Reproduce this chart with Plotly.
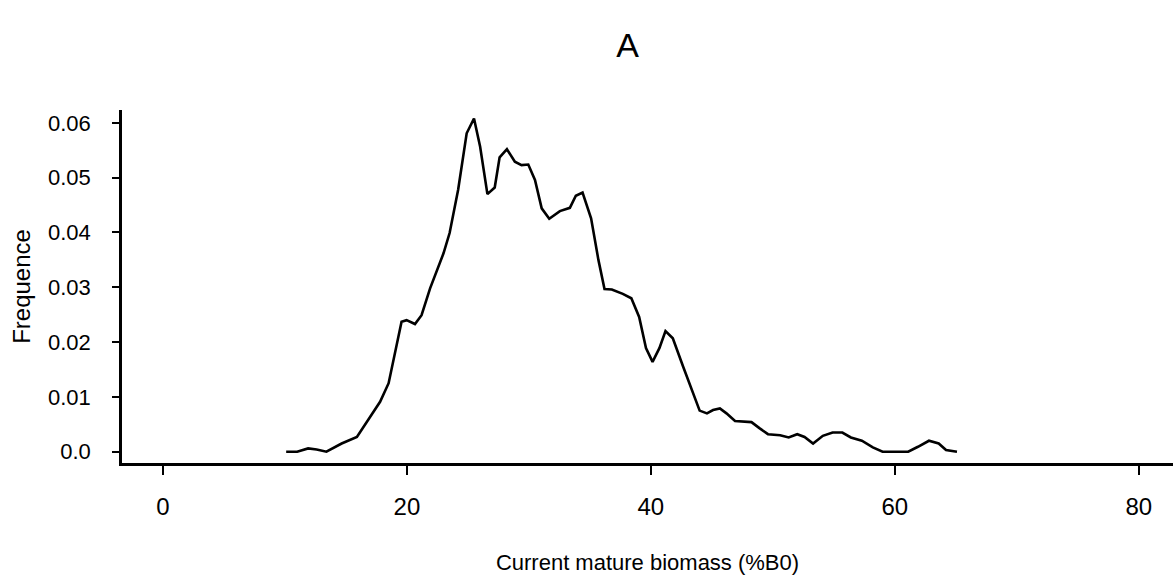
import plotly.graph_objects as go

# Data
biomass = [10.1, 11.0, 11.9, 12.6, 13.4, 14.65, 15.9, 17.0, 17.8, 18.5, 19.0, 19.56, 19.97,
           20.66, 21.2, 21.9, 23.0, 23.5, 24.2, 24.9, 25.5, 26.0, 26.6, 27.2, 27.6, 28.2,
           28.85, 29.4, 29.95, 30.5, 31.05, 31.67, 32.54, 33.36, 33.85, 34.4, 35.1, 35.7,
           36.2, 36.8, 37.7, 38.4, 39.04, 39.6, 40.14, 40.7, 41.2, 41.8, 42.65, 43.5, 44.0,
           44.6, 45.1, 45.66, 46.2, 46.9, 47.6, 48.25, 48.9, 49.6, 50.6, 51.3, 52.0, 52.6,
           53.3, 54.1, 54.9, 55.7, 56.4, 57.3, 58.2, 59.0, 59.85, 61.1, 61.9, 62.8, 63.6,
           64.2, 65.1]
frequence = [0.0, 0.0, 0.0006, 0.0004, 0.0, 0.0015, 0.0027, 0.0064, 0.0091, 0.0125, 0.018,
             0.0237, 0.024, 0.0233, 0.0249, 0.0298, 0.0362, 0.0399, 0.0478, 0.0581, 0.0608,
             0.0557, 0.047, 0.0482, 0.0537, 0.0552, 0.0529, 0.0523, 0.0524, 0.0496, 0.0444,
             0.0425, 0.0439, 0.0445, 0.0467, 0.0473, 0.0426, 0.035, 0.0297, 0.0296, 0.0288,
             0.028, 0.0246, 0.0189, 0.0164, 0.0189, 0.022, 0.0207, 0.0155, 0.0103, 0.0075,
             0.007, 0.0076, 0.0079, 0.007, 0.0056, 0.0055, 0.0054, 0.0043, 0.0032, 0.003,
             0.0026, 0.0032, 0.0027, 0.0015, 0.0029, 0.0035, 0.0035, 0.0026, 0.002, 0.0008,
             0.0, 0.0, 0.0, 0.0009, 0.002, 0.0015, 0.0003, 0.0]

x_tickvals = [0, 20, 40, 60, 80]
x_ticktext = ["0", "20", "40", "60", "80"]
y_tickvals = [0.0, 0.01, 0.02, 0.03, 0.04, 0.05, 0.06]
y_ticktext = ["0.0", "0.01", "0.02", "0.03", "0.04", "0.05", "0.06"]

title_text = "A"
x_title = "Current mature biomass (%B0)"
y_title = "Frequence"

FONT = "Liberation Sans, Arial, sans-serif"

fig = go.Figure()
fig.add_trace(go.Scatter(
    x=biomass, y=frequence, mode="lines",
    line=dict(color="black", width=2.6),
    showlegend=False, hoverinfo="skip"))

fig.update_layout(
    width=1173, height=584,
    margin=dict(l=122, r=0, t=110, b=121),
    paper_bgcolor="white", plot_bgcolor="white",
    font=dict(family=FONT, size=22, color="black"),
    title=dict(text=title_text, font=dict(size=34, color="black", family=FONT),
               xref="container", yref="container", x=0.535, y=1 - 45 / 584,
               xanchor="center", yanchor="middle"),
)

fig.update_xaxes(
    range=[-3.36, 82.81],
    tickvals=x_tickvals, ticktext=x_ticktext,
    tickfont=dict(size=24),
    ticks="outside", ticklen=9, tickwidth=2, tickcolor="black",
    ticklabelstandoff=11,
    showline=True, linecolor="black", linewidth=2.5,
    showgrid=False, zeroline=False,
    title=dict(text=x_title, standoff=37, font=dict(size=22)),
)
fig.update_yaxes(
    range=[-0.00206, 0.06235],
    tickvals=y_tickvals, ticktext=y_ticktext,
    tickfont=dict(size=22),
    ticks="outside", ticklen=7, tickwidth=2, tickcolor="black",
    ticklabelstandoff=17,
    showline=True, linecolor="black", linewidth=2.5,
    showgrid=False, zeroline=False,
    title=dict(text=y_title, standoff=11, font=dict(size=24)),
)

fig.write_html("out.html")
